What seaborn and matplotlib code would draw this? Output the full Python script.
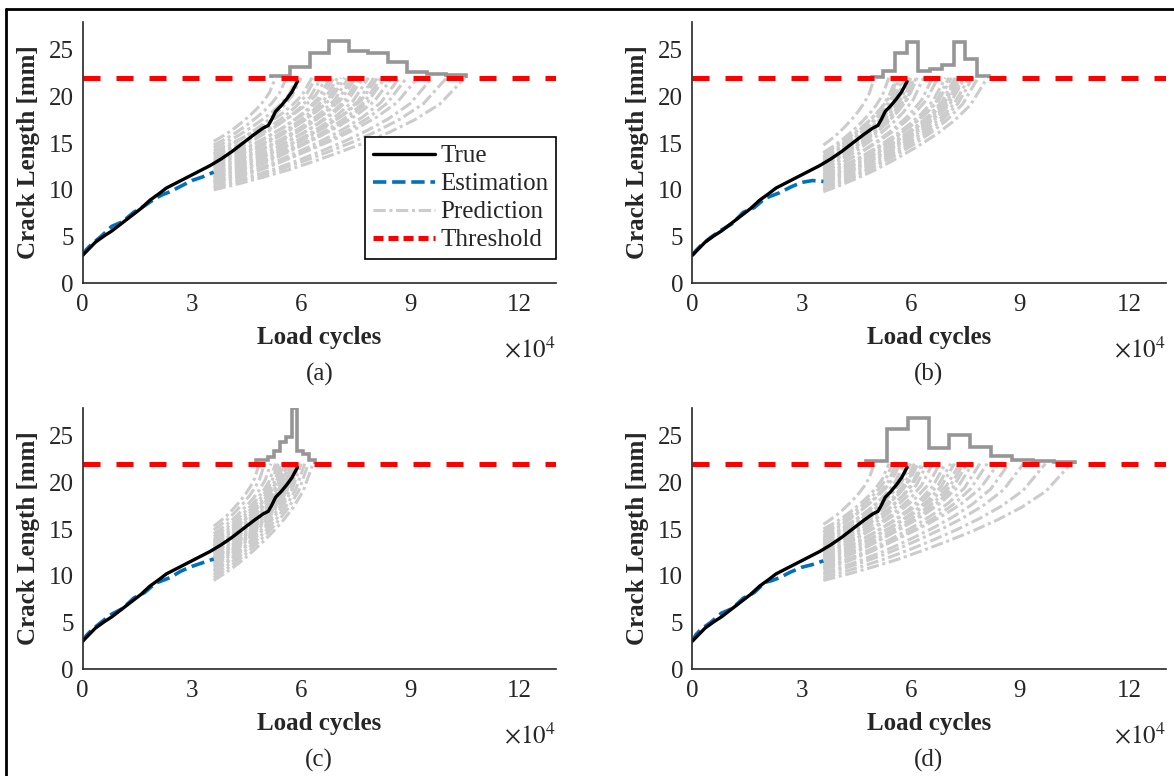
import numpy as np
import pandas as pd
import matplotlib
matplotlib.use("Agg")
import matplotlib.pyplot as plt
from matplotlib.lines import Line2D
import seaborn as sns

sns.set_style("white")
plt.rcParams["font.family"] = ["Liberation Serif", "DejaVu Serif"]
plt.rcParams["mathtext.fontset"] = "stix"

threshold = 22.0
pred_x0 = 3.6  # prediction starts here (x 1e4 cycles)

# true crack growth (x in 1e4 cycles, y in mm)
true_x = [0, 0.15, 0.35, 0.6, 0.8, 1.0, 1.3, 1.6, 1.85, 2.1, 2.3, 2.6, 2.9, 3.2,
          3.5, 3.8, 4.1, 4.4, 4.7, 4.95, 5.1, 5.2, 5.3, 5.45, 5.6, 5.75, 5.9]
true_y = [3.0, 3.6, 4.4, 5.1, 5.6, 6.2, 7.1, 8.0, 8.9, 9.6, 10.2, 10.8, 11.4, 12.0,
          12.6, 13.3, 14.1, 15.0, 15.9, 16.6, 16.9, 17.6, 18.4, 19.0, 19.7, 20.5, 21.6]

# estimation up to the prediction start
est_x = [0, 0.1, 0.25, 0.5, 0.8, 1.1, 1.4, 1.7, 2.0, 2.2, 2.4, 2.7, 3.0, 3.3, 3.6]
est_y_a = [3.0, 3.6, 4.2, 5.0, 6.1, 6.6, 7.6, 8.3, 9.1, 9.5, 9.8, 10.4, 11.0, 11.4, 11.9]
est_y_b = [3.0, 3.5, 4.1, 4.9, 5.7, 6.4, 7.6, 8.1, 9.1, 9.4, 9.7, 10.3, 10.8, 11.0, 10.9]
est_y_c = [3.0, 3.6, 4.2, 5.0, 5.9, 6.5, 7.6, 8.2, 9.2, 9.5, 9.8, 10.5, 11.0, 11.4, 11.8]
est_y_d = [3.0, 3.7, 4.3, 5.0, 6.0, 6.5, 7.6, 8.2, 9.3, 9.5, 9.8, 10.4, 10.9, 11.2, 11.6]

# prediction curves: crack length at start and cycles when threshold is reached
pred_start_a = [15.2, 14.8, 14.5, 13.9, 14.2, 13.6, 13.3, 13.8, 12.9, 13.1, 12.6, 12.4, 12.8, 12.1, 11.9,
                12.3, 11.6, 11.8, 11.4, 11.2, 11.7, 11.0, 10.9, 11.3, 10.7, 10.5, 10.8, 10.3, 10.2, 10.0]
pred_end_a = [5.3, 5.6, 5.9, 6.0, 6.3, 6.4, 6.55, 6.7, 6.8, 6.9, 7.0, 7.1, 7.2, 7.3, 7.4,
              7.5, 7.6, 7.7, 7.85, 8.0, 8.1, 8.2, 8.3, 8.5, 8.7, 8.9, 9.2, 9.6, 10.0, 10.5]
pred_start_b = [14.8, 14.0, 13.6, 13.9, 13.3, 13.5, 13.0, 13.2, 12.8, 12.9, 12.5, 12.7, 12.3, 12.6, 12.2, 11.9,
                12.0, 11.6, 11.4, 11.7, 11.2, 11.0, 11.3, 10.9, 10.7, 10.8, 10.5, 10.3, 10.1, 10.0, 9.8]
pred_end_b = [5.0, 5.4, 5.6, 5.65, 5.7, 5.8, 5.85, 5.92, 5.97, 6.0, 6.05, 6.1, 6.15, 6.18, 6.35, 6.6,
              6.75, 6.95, 7.05, 7.12, 7.22, 7.27, 7.32, 7.36, 7.4, 7.45, 7.48, 7.6, 7.7, 7.85, 8.1]
pred_start_c = [15.3, 14.9, 14.5, 14.2, 13.9, 13.7, 13.4, 13.6, 13.1, 12.9, 13.2, 12.6, 12.8, 12.4, 12.2,
                12.5, 11.9, 12.0, 11.7, 11.5, 11.8, 11.3, 11.1, 11.4, 10.9, 10.6, 10.4, 10.1, 9.8, 9.5]
pred_end_c = [4.85, 5.0, 5.17, 5.3, 5.37, 5.45, 5.5, 5.53, 5.56, 5.62, 5.65, 5.68, 5.7, 5.72, 5.76,
              5.77, 5.78, 5.8, 5.81, 5.82, 5.84, 5.85, 5.86, 5.87, 5.88, 5.95, 6.0, 6.1, 6.2, 6.33]
pred_start_d = [15.5, 15.0, 14.7, 14.3, 14.6, 13.9, 14.1, 13.6, 13.8, 13.3, 13.0, 13.4, 12.7, 12.9, 12.5, 12.2,
                12.4, 11.9, 12.1, 11.6, 11.8, 11.4, 11.1, 11.3, 10.8, 10.6, 10.9, 10.3, 10.1, 9.8, 9.5]
pred_end_d = [5.0, 5.4, 5.5, 5.6, 5.7, 5.8, 5.9, 5.95, 6.0, 6.1, 6.15, 6.2, 6.3, 6.35, 6.45, 6.6,
              6.8, 6.95, 7.1, 7.2, 7.35, 7.45, 7.55, 7.7, 7.9, 8.1, 8.4, 8.7, 9.1, 9.7, 10.4]

# shared shape of a prediction curve (fraction of x span -> fraction of y span)
prof_t = [0, 0.1, 0.2, 0.3, 0.4, 0.5, 0.6, 0.7, 0.8, 0.9, 1.0]
prof_f = [0, 0.055, 0.115, 0.18, 0.255, 0.335, 0.42, 0.515, 0.625, 0.765, 1.0]

# failure-time histograms drawn on top of the threshold
hist_edges_a = [5.17, 5.70, 6.24, 6.77, 7.31, 7.84, 8.38, 8.91, 9.45, 9.98, 10.52]
hist_top_a = [22.2, 23.2, 24.7, 25.9, 24.85, 24.65, 23.7, 22.6, 22.45, 22.25]
hist_edges_b = [4.93, 5.25, 5.57, 5.89, 6.21, 6.54, 6.86, 7.18, 7.50, 7.82, 8.14]
hist_top_b = [22.1, 22.75, 24.65, 25.8, 22.75, 22.9, 23.4, 25.85, 24.0, 22.2]
hist_edges_c = [4.76, 4.92, 5.09, 5.25, 5.41, 5.58, 5.74, 5.90, 6.06, 6.23, 6.39]
hist_top_c = [22.4, 22.4, 22.7, 23.4, 24.3, 24.8, 28.0, 23.4, 23.0, 22.4]
hist_edges_d = [4.77, 5.34, 5.92, 6.49, 7.06, 7.64, 8.21, 8.78, 9.36, 9.93, 10.5]
hist_top_d = [22.3, 25.7, 26.85, 23.65, 25.05, 23.75, 22.85, 22.42, 22.25, 22.2]

panels = [
    ("(a)", est_y_a, pred_start_a, pred_end_a, hist_edges_a, hist_top_a, [0.0704, 0.6349, 0.4031, 0.3371]),
    ("(b)", est_y_b, pred_start_b, pred_end_b, hist_edges_b, hist_top_b, [0.5897, 0.6349, 0.4031, 0.3371]),
    ("(c)", est_y_c, pred_start_c, pred_end_c, hist_edges_c, hist_top_c, [0.0704, 0.1376, 0.4031, 0.3372]),
    ("(d)", est_y_d, pred_start_d, pred_end_d, hist_edges_d, hist_top_d, [0.5897, 0.1376, 0.4031, 0.3372]),
]

c_true = "black"
c_est = "#0072BD"
c_pred = "#CCCCCC"
c_hist = "#969696"
c_thr = "#FF0000"
fs = 18
pred_dash = (4.0, 1.2, 1.0, 1.2)

fig = plt.figure(figsize=(11.74, 7.76), dpi=100)

for tag, est_y, p_start, p_end, h_edges, h_top, rect in panels:
    ax = fig.add_axes(rect)

    # long-form table of the prediction curves
    rows = []
    for i, (y0, xe) in enumerate(zip(p_start, p_end)):
        for t, f in zip(prof_t, prof_f):
            rows.append((i, pred_x0 + t * (xe - pred_x0), y0 + f * (threshold - y0)))
    df_pred = pd.DataFrame(rows, columns=["curve", "x", "y"])

    sns.lineplot(data=df_pred, x="x", y="y", units="curve", estimator=None, sort=False,
                 color=c_pred, lw=2.2, dashes=False, legend=False, ax=ax)
    for ln in ax.lines:
        ln.set_dashes(pred_dash)

    ax.stairs(h_top, h_edges, baseline=threshold, color=c_hist, lw=2.6)
    sns.lineplot(x=est_x, y=est_y, sort=False, color=c_est, lw=2.6, linestyle="--", ax=ax)
    sns.lineplot(x=true_x, y=true_y, sort=False, color=c_true, lw=2.4, ax=ax)
    ax.axhline(threshold, color=c_thr, lw=3.6, dashes=(3.4, 3.2))

    ax.set_xlim(0, 13)
    ax.set_ylim(0, 28)
    ax.set_xticks([0, 3, 6, 9, 12])
    ax.set_yticks([0, 5, 10, 15, 20, 25])
    ax.tick_params(axis="x", direction="in", length=3, width=1.1, labelsize=fs, pad=7.5, colors="#262626")
    ax.tick_params(axis="y", direction="in", length=3, width=1.1, labelsize=fs, pad=6.5, colors="#262626")
    for s in ["top", "right"]:
        ax.spines[s].set_visible(False)
    for s in ["left", "bottom"]:
        ax.spines[s].set_color("#262626")
        ax.spines[s].set_linewidth(1.2)

    ax.set_ylabel("Crack Length [mm]", fontsize=fs, fontweight="bold")
    ax.yaxis.set_label_coords(-0.091, 0.5)
    ax.set_xlabel("Load cycles", fontsize=fs, fontweight="bold")
    ax.xaxis.set_label_coords(0.5, -0.163)
    ax.text(1.0, -0.282, r"$\times10^{4}$", transform=ax.transAxes, ha="right", va="baseline",
            fontsize=fs, color="#262626")
    ax.text(0.5, -0.35, tag, transform=ax.transAxes, ha="center", va="center", fontsize=fs)

    if tag == "(a)":
        handles = [
            Line2D([], [], color=c_true, lw=2.4),
            Line2D([], [], color=c_est, lw=2.6, linestyle="--"),
            Line2D([], [], color=c_pred, lw=2.2, dashes=pred_dash),
            Line2D([], [], color=c_thr, lw=3.6, dashes=(2.0, 1.0)),
        ]
        leg = ax.legend(handles, ["True", "Estimation", "Prediction", "Threshold"],
                        loc="lower right", bbox_to_anchor=(1.0, 0.093), borderaxespad=0,
                        fontsize=fs, handlelength=2.5, handletextpad=0.2, labelspacing=0.22,
                        borderpad=0.3, fancybox=False, framealpha=1, edgecolor="black")
        leg.get_frame().set_linewidth(1.2)

# outer frame (only top and left edges are inside the picture)
fig.add_artist(Line2D([0.0055, 0.0055], [0, 0.989], transform=fig.transFigure, color="black", lw=2))
fig.add_artist(Line2D([0.0055, 1.0], [0.989, 0.989], transform=fig.transFigure, color="black", lw=2))

fig.savefig("out.png", dpi=100)
